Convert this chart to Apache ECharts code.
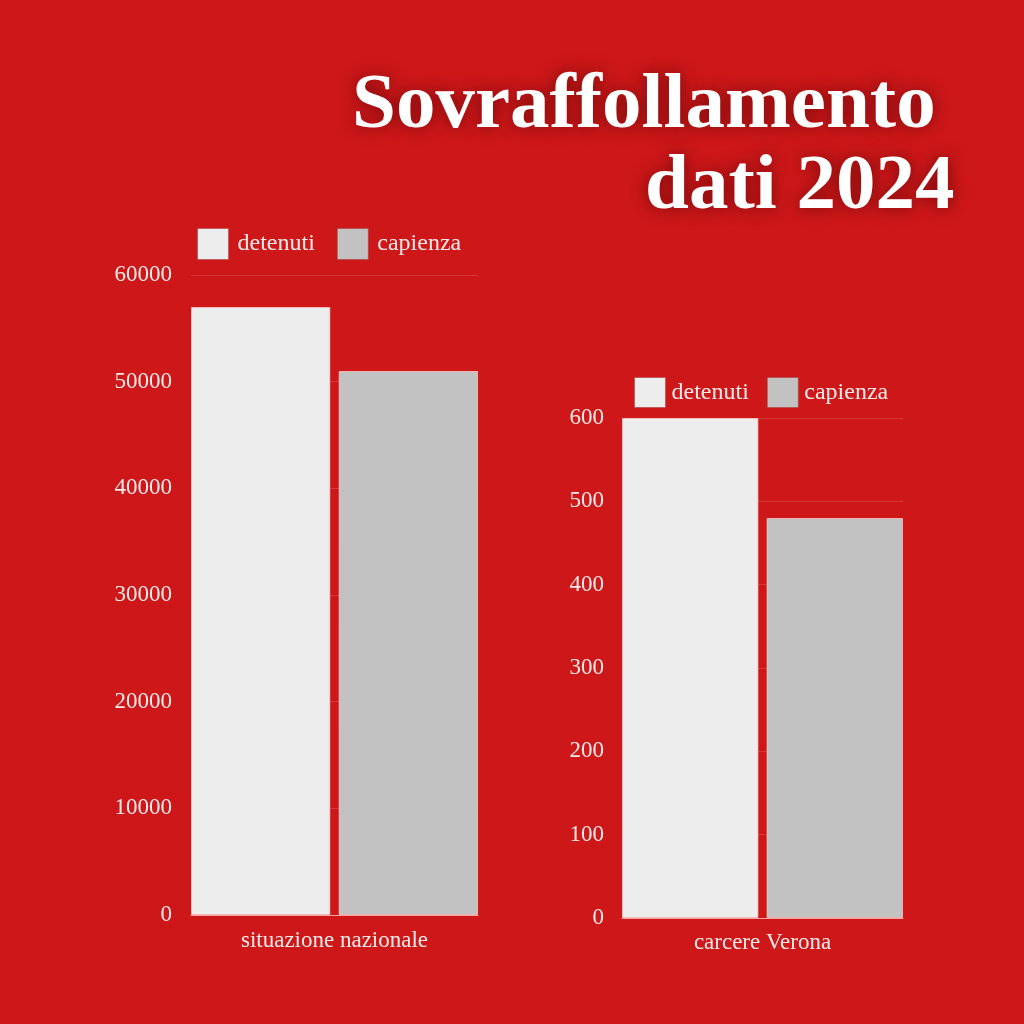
<!DOCTYPE html>
<html>
<head>
<meta charset="utf-8">
<script src="https://cdn.jsdelivr.net/npm/echarts@6/dist/echarts.min.js"></script>
<style>
  html, body { margin: 0; padding: 0; background: #cd1719; }
  #main { width: 1024px; height: 1024px; }
</style>
</head>
<body>
<div id="main"></div>
<script>
var seriesNames = ['detenuti', 'capienza'];
var nationalCategory = ['situazione nazionale'];
var nationalDetenuti = [57000];
var nationalCapienza = [51000];
var veronaCategory = ['carcere Verona'];
var veronaDetenuti = [600];
var veronaCapienza = [480];

var serif = 'Liberation Serif';
var labelColor = '#f7e9e9';

var chart = echarts.init(document.getElementById('main'));

function barSeries(name, data, idx, color) {
    return {
        name: name,
        type: 'bar',
        xAxisIndex: idx,
        yAxisIndex: idx,
        data: data,
        barGap: '6%',
        barCategoryGap: '0%',
        itemStyle: { color: color, borderColor: 'rgba(255,210,210,0.7)', borderWidth: 1 }
    };
}

var axisLabel = { color: labelColor, fontFamily: serif, fontSize: 23 };
var titleStyle = {
    color: '#fff', fontFamily: serif, fontWeight: 'bold', fontSize: 79,
    textShadowColor: 'rgba(60,0,0,0.6)', textShadowBlur: 16
};

var option = {
    backgroundColor: '#cd1719',
    color: ['#ededed', '#c2c2c2'],
    title: [{
        text: 'Sovraffollamento',
        left: 347, top: 62,
        textStyle: titleStyle
    }, {
        text: 'dati 2024',
        left: 640, top: 143,
        textStyle: titleStyle
    }],
    legend: [{
        data: seriesNames,
        left: 192, top: 223,
        icon: 'rect',
        itemWidth: 31, itemHeight: 31, itemGap: 22,
        itemStyle: { borderColor: 'rgba(160,60,60,0.5)', borderWidth: 1 },
        textStyle: { color: labelColor, fontFamily: serif, fontSize: 24, padding: [0, 0, 0, 4] }
    }, {
        data: seriesNames,
        left: 629, top: 372,
        icon: 'rect',
        itemWidth: 31, itemHeight: 30, itemGap: 18,
        itemStyle: { borderColor: 'rgba(160,60,60,0.5)', borderWidth: 1 },
        textStyle: { color: labelColor, fontFamily: serif, fontSize: 24, padding: [0, 0, 0, 1] }
    }],
    grid: [
        { left: 191, top: 275, width: 287, height: 640 },
        { left: 622, top: 418, width: 281, height: 500 }
    ],
    xAxis: [{
        type: 'category', gridIndex: 0, data: nationalCategory,
        axisLine: { lineStyle: { color: 'rgba(255,210,210,0.7)' } },
        axisTick: { show: false },
        axisLabel: Object.assign({ margin: 14 }, axisLabel)
    }, {
        type: 'category', gridIndex: 1, data: veronaCategory,
        axisLine: { lineStyle: { color: 'rgba(255,210,210,0.7)' } },
        axisTick: { show: false },
        axisLabel: Object.assign({ margin: 13 }, axisLabel)
    }],
    yAxis: [{
        type: 'value', gridIndex: 0, min: 0, max: 60000, interval: 10000,
        axisLine: { show: false }, axisTick: { show: false },
        splitLine: { lineStyle: { color: 'rgba(255,255,255,0.14)' } },
        axisLabel: Object.assign({ margin: 19, formatter: function (v) { return String(v); } }, axisLabel)
    }, {
        type: 'value', gridIndex: 1, min: 0, max: 600, interval: 100,
        axisLine: { show: false }, axisTick: { show: false },
        splitLine: { lineStyle: { color: 'rgba(255,255,255,0.14)' } },
        axisLabel: Object.assign({ margin: 18 }, axisLabel)
    }],
    series: [
        barSeries('detenuti', nationalDetenuti, 0, '#ededed'),
        barSeries('capienza', nationalCapienza, 0, '#c2c2c2'),
        barSeries('detenuti', veronaDetenuti, 1, '#ededed'),
        barSeries('capienza', veronaCapienza, 1, '#c2c2c2')
    ]
};
chart.setOption(option);
</script>
</body>
</html>
